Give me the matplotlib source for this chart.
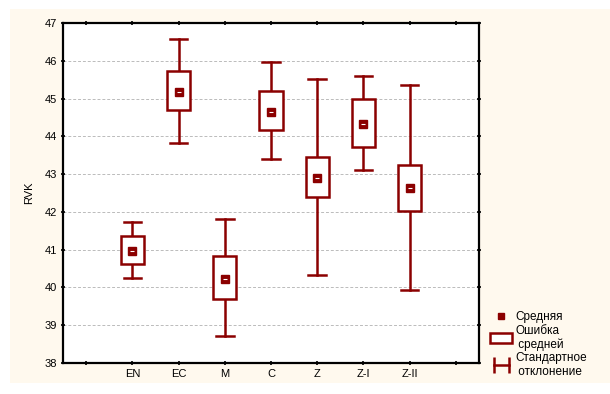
import matplotlib

matplotlib.use("Agg")

import matplotlib.pyplot as plt
from matplotlib.lines import Line2D
from matplotlib.patches import Rectangle
from matplotlib.legend_handler import HandlerLine2D

plt.rcParams["font.family"] = ["Liberation Sans", "DejaVu Sans"]

groups = ["EN", "EC", "M", "C", "Z", "Z-I", "Z-II"]
means = [40.97, 45.17, 40.23, 44.64, 42.90, 44.32, 42.62]
se_low = [40.63, 44.70, 39.69, 44.17, 42.40, 43.73, 42.03]
se_high = [41.36, 45.73, 40.84, 45.21, 43.46, 44.98, 43.25]
sd_low = [40.24, 43.82, 38.72, 43.41, 40.34, 43.10, 39.93]
sd_high = [41.72, 46.58, 41.80, 45.96, 45.52, 45.60, 45.36]
tick_labels = [""] + groups + [""]

col = "#8B0000"

fig = plt.figure(figsize=(6.10, 3.94), dpi=100)
fig.patch.set_facecolor("white")
# cream panel behind the plot
fig.patches.append(
    Rectangle((10 / 610, 11 / 394), 600 / 610, 374 / 394,
              transform=fig.transFigure, facecolor="#FFF9EE", edgecolor="none", zorder=-10)
)

ax = fig.add_axes([63 / 610, 31 / 394, 416 / 610, 340 / 394])
ax.set_facecolor("white")

box_w = 0.5
cap_w = 0.38
for i, g in enumerate(groups):
    x = i + 2
    # whiskers (std dev)
    ax.plot([x, x], [sd_low[i], se_low[i]], color=col, lw=1.8, zorder=3)
    ax.plot([x, x], [se_high[i], sd_high[i]], color=col, lw=1.8, zorder=3)
    ax.plot([x - cap_w / 2, x + cap_w / 2], [sd_low[i], sd_low[i]], color=col, lw=1.8, zorder=3)
    ax.plot([x - cap_w / 2, x + cap_w / 2], [sd_high[i], sd_high[i]], color=col, lw=1.8, zorder=3)
    # box (std error)
    ax.add_patch(Rectangle((x - box_w / 2, se_low[i]), box_w, se_high[i] - se_low[i],
                           facecolor="white", edgecolor=col, lw=1.8, zorder=4))
    # mean
    ax.plot(x, means[i], marker="s", ms=5.5, color=col, zorder=5)
    ax.plot(x, means[i], marker="_", ms=2.5, mew=0.8, color="white", zorder=6)

ax.set_xlim(0.5, 9.5)
ax.set_ylim(38, 47)
ax.set_xticks(range(1, 10))
ax.set_xticklabels(tick_labels)
ax.set_yticks(range(38, 48))
ax.yaxis.grid(True, linestyle=(0, (3, 2)), color="#BBBBBB", lw=0.7)
ax.set_axisbelow(True)
ax.tick_params(axis="both", which="both", direction="inout", length=3, width=1.2,
               labelsize=8, top=True, right=True, pad=3)
for s in ax.spines.values():
    s.set_linewidth(1.6)
ax.set_ylabel("RVK", fontsize=8, labelpad=7)

h_mean = Line2D([], [], color=col, marker="s", ms=5, linestyle="none")
h_se = Rectangle((0, 0), 1, 1, facecolor="white", edgecolor=col, lw=1.8)
h_sd = Line2D([], [], color=col, lw=1.8, marker="|", ms=11, mew=1.8)
fig.legend(
    [h_mean, h_se, h_sd],
    ["Средняя", "Ошибка\n средней", "Стандартное\n отклонение"],
    handler_map={h_sd: HandlerLine2D(numpoints=2), h_mean: HandlerLine2D(numpoints=1)},
    loc="upper left", bbox_to_anchor=(490 / 610, 1 - 311 / 394),
    frameon=False, fontsize=8.5, handlelength=1.9, handleheight=1.0, handletextpad=0.25,
    labelspacing=0.1, borderaxespad=0, borderpad=0,
)

plt.savefig("out.png", dpi=100)
